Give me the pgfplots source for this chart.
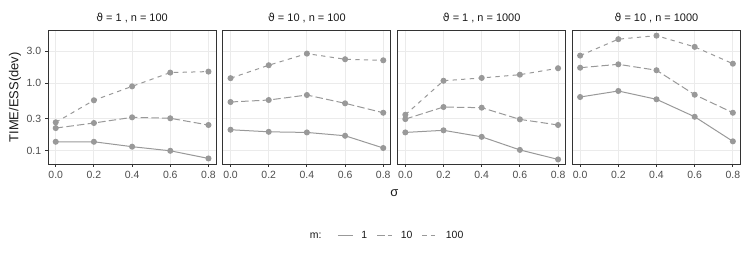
\documentclass[border=0pt]{standalone}
\usepackage{pgfplots}
\pgfplotsset{compat=1.18}
\usepackage{fontspec}
\setmainfont{Liberation Sans}
\newfontfamily\dejavu{DejaVu Sans}
\definecolor{ptc}{HTML}{999999}
\definecolor{gridc}{HTML}{EBEBEB}
\definecolor{borderc}{HTML}{333333}
\definecolor{tickc}{HTML}{4D4D4D}
\definecolor{txtc}{HTML}{1A1A1A}
\pgfplotsset{
  every axis/.append style={
    scale only axis, width=168bp, height=133.3bp,
    xmin=-0.04, xmax=0.84, ymin=0.0637, ymax=6.01,
    xtick={0,0.2,0.4,0.6,0.8}, xticklabels={0.0,0.2,0.4,0.6,0.8},
    ytick={0.1,0.3,1,3}, yticklabels={0.1,0.3,1.0,3.0},
    grid=major, major grid style={draw=gridc, line width=1bp},
    axis line style={draw=borderc, line width=0.9bp},
    tick align=outside, major tick length=2.75bp,
    tick style={draw=borderc, line width=0.9bp},
    xtick pos=lower, ytick pos=left,
    tick label style={font=\fontsize{10.5}{12}\selectfont, text=tickc},
    xticklabel style={yshift=-2.5bp, inner sep=2bp},
    yticklabel style={xshift=-1.5bp, inner sep=2.5bp},
    title style={at={(0.5,1)}, anchor=center, yshift=6.4bp, font=\fontsize{11}{13}\selectfont, text=txtc},
  },
}
\tikzset{
  rmone/.style={color=ptc, line width=1bp, solid, mark=*, mark size=2.5bp, mark options={solid, fill=ptc, draw=ptc}},
  rmten/.style={color=ptc, line width=1bp, dash pattern=on 7.5bp off 3.2bp, mark=*, mark size=2.5bp, mark options={solid, fill=ptc, draw=ptc}},
  rmhun/.style={color=ptc, line width=1bp, dash pattern=on 4.3bp off 4.3bp, mark=*, mark size=2.5bp, mark options={solid, fill=ptc, draw=ptc}},
}
\begin{document}
\begin{tikzpicture}
\useasboundingbox (0,0) rectangle (747bp,-261bp);
% Panel 1
\begin{semilogyaxis}[at={(48.1bp,-30.7bp)}, anchor=north west,
  title={{\dejavu ϑ} = 1 , n = 100},
  ylabel={TIME/ESS(dev)},
  ylabel style={at={(axis description cs:-0.197,0.5)}, anchor=center, font=\fontsize{13}{15}\selectfont, text=txtc},
  legend image code/.code={\draw[#1] (0bp,0bp) -- (15bp,0bp);},
  legend style={at={(axis description cs:1.991,-0.540)}, anchor=center, draw=none, fill=none,
    font=\fontsize{10.5}{12}\selectfont, text=txtc,
    nodes={inner sep=0bp},
    /tikz/every odd column/.append style={column sep=8bp},
    /tikz/every even column/.append style={column sep=9.5bp}},
  legend columns=4,
  ]
\addplot[rmone, forget plot] coordinates {(0,0.136) (0.2,0.136) (0.4,0.115) (0.6,0.100) (0.8,0.077)};
\addplot[rmten, forget plot] coordinates {(0,0.217) (0.2,0.258) (0.4,0.313) (0.6,0.303) (0.8,0.241)};
\addplot[rmhun, forget plot] coordinates {(0,0.264) (0.2,0.56) (0.4,0.90) (0.6,1.44) (0.8,1.49)};
\addlegendimage{empty legend}\addlegendentry{m:\kern6.5bp}
\addlegendimage{color=ptc, line width=1bp, solid}\addlegendentry{1}
\addlegendimage{color=ptc, line width=1bp, dash pattern=on 7.5bp off 3.2bp}\addlegendentry{10}
\addlegendimage{color=ptc, line width=1bp, dash pattern=on 4.3bp off 4.3bp}\addlegendentry{100}
\end{semilogyaxis}
% Panel 2
\begin{semilogyaxis}[at={(222.9bp,-30.7bp)}, anchor=north west,
  yticklabels={}, ytick style={draw=none},
  title={{\dejavu ϑ} = 10 , n = 100},
  xlabel={σ},
  xlabel style={at={(axis description cs:1.020,-0.215)}, anchor=center, font=\fontsize{13}{15}\selectfont, text=txtc},
  ]
\addplot[rmone] coordinates {(0,0.205) (0.2,0.191) (0.4,0.187) (0.6,0.167) (0.8,0.110)};
\addplot[rmten] coordinates {(0,0.528) (0.2,0.565) (0.4,0.670) (0.6,0.505) (0.8,0.366)};
\addplot[rmhun] coordinates {(0,1.19) (0.2,1.85) (0.4,2.75) (0.6,2.27) (0.8,2.19)};
\end{semilogyaxis}
% Panel 3
\begin{semilogyaxis}[at={(397.7bp,-30.7bp)}, anchor=north west,
  yticklabels={}, ytick style={draw=none},
  title={{\dejavu ϑ} = 1 , n = 1000},
  ]
\addplot[rmone] coordinates {(0,0.187) (0.2,0.201) (0.4,0.161) (0.6,0.103) (0.8,0.0745)};
\addplot[rmten] coordinates {(0,0.295) (0.2,0.445) (0.4,0.435) (0.6,0.292) (0.8,0.241)};
\addplot[rmhun] coordinates {(0,0.342) (0.2,1.09) (0.4,1.20) (0.6,1.34) (0.8,1.67)};
\end{semilogyaxis}
% Panel 4
\begin{semilogyaxis}[at={(572.5bp,-30.7bp)}, anchor=north west,
  yticklabels={}, ytick style={draw=none},
  title={{\dejavu ϑ} = 10 , n = 1000},
  ]
\addplot[rmone] coordinates {(0,0.626) (0.2,0.769) (0.4,0.579) (0.6,0.319) (0.8,0.138)};
\addplot[rmten] coordinates {(0,1.70) (0.2,1.91) (0.4,1.56) (0.6,0.677) (0.8,0.366)};
\addplot[rmhun] coordinates {(0,2.57) (0.2,4.50) (0.4,5.08) (0.6,3.46) (0.8,1.95)};
\end{semilogyaxis}
\end{tikzpicture}
\end{document}
